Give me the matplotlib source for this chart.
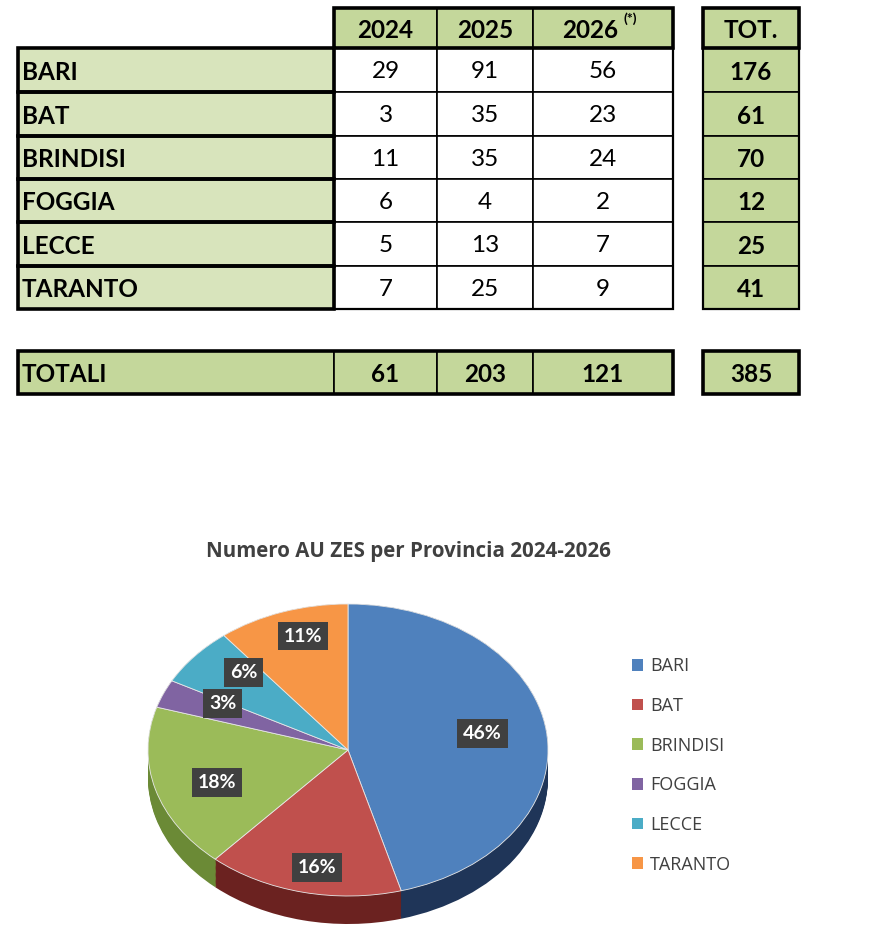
import numpy as np
import matplotlib.pyplot as plt
from matplotlib.patches import Rectangle, Patch

plt.rcParams['font.family'] = ['Lato', 'DejaVu Sans']

provinces = ['BARI', 'BAT', 'BRINDISI', 'FOGGIA', 'LECCE', 'TARANTO']
years = ['2024', '2025', '2026']
v2024 = [29, 3, 11, 6, 5, 7]
v2025 = [91, 35, 35, 4, 13, 25]
v2026 = [56, 23, 24, 2, 7, 9]
totals = [176, 61, 70, 12, 25, 41]
col_totals = [61, 203, 121]
grand_total = 385
chart_title = 'Numero AU ZES per Provincia 2024-2026'

colors = ['#4f81bd', '#c0504d', '#9bbb59', '#8064a2', '#4bacc6', '#f79646']
side_colors = ['#1f3558', '#6b2220', '#6b8a36', '#4f3a6b', '#2a7287', '#a85e24']
light_green = '#d8e4bc'
dark_green = '#c4d79b'

fig = plt.figure(figsize=(8.96, 9.5), dpi=100)
ax = fig.add_axes([0, 0, 1, 1])
ax.set_xlim(0, 896)
ax.set_ylim(950, 0)
ax.axis('off')

# table layout (pixels)
xs = [18, 334, 437, 533, 673]
xt = [703, 799]
head = (8, 48)
rows_y = [48, 92, 136, 179, 222, 266, 309]
tot_y = (351, 394)
fs = 17.5


def cell(x0, x1, y0, y1, fc, lw=1.2):
    ax.add_patch(Rectangle((x0, y0), x1 - x0, y1 - y0, fc=fc, ec='black', lw=lw))


def box(x0, x1, y0, y1, lw=2.6):
    ax.add_patch(Rectangle((x0, y0), x1 - x0, y1 - y0, fc='none', ec='black', lw=lw, zorder=3))


# header
for j, yr in enumerate(years):
    cell(xs[j + 1], xs[j + 2], head[0], head[1], dark_green)
    ym = (head[0] + head[1]) / 2 + 2
    xm = (xs[j + 1] + xs[j + 2]) / 2
    if yr == '2026':
        ax.text(xm - 13, ym, yr, ha='center', va='center', fontsize=fs, fontweight='bold')
        ax.text(xm + 27, ym - 11, '(*)', ha='center', va='center', fontsize=10, fontweight='bold')
    else:
        ax.text(xm, ym, yr, ha='center', va='center', fontsize=fs, fontweight='bold')
box(xs[1], xs[-1], head[0], head[1])
cell(xt[0], xt[1], head[0], head[1], dark_green)
box(xt[0], xt[1], head[0], head[1])
ax.text((xt[0] + xt[1]) / 2, (head[0] + head[1]) / 2 + 2, 'TOT.', ha='center', va='center',
        fontsize=fs, fontweight='bold')

# body
vals = [v2024, v2025, v2026]
for i, p in enumerate(provinces):
    y0, y1 = rows_y[i], rows_y[i + 1]
    ym = (y0 + y1) / 2 + 2
    cell(xs[0], xs[1], y0, y1, light_green)
    box(xs[0], xs[1], y0, y1)
    ax.text(xs[0] + 4, ym, p, ha='left', va='center', fontsize=fs, fontweight='bold')
    for j in range(3):
        cell(xs[j + 1], xs[j + 2], y0, y1, 'white')
        ax.text((xs[j + 1] + xs[j + 2]) / 2, ym, str(vals[j][i]), ha='center', va='center',
                fontsize=fs)
    cell(xt[0], xt[1], y0, y1, dark_green)
    ax.text((xt[0] + xt[1]) / 2, ym, str(totals[i]), ha='center', va='center', fontsize=fs,
            fontweight='bold')
box(xs[1], xs[-1], rows_y[0], rows_y[-1], lw=1.6)
box(xt[0], xt[1], rows_y[0], rows_y[-1], lw=1.6)

# totals row
y0, y1 = tot_y
ym = (y0 + y1) / 2 + 2
cell(xs[0], xs[1], y0, y1, dark_green)
ax.text(xs[0] + 4, ym, 'TOTALI', ha='left', va='center', fontsize=fs, fontweight='bold')
for j in range(3):
    cell(xs[j + 1], xs[j + 2], y0, y1, dark_green)
    ax.text((xs[j + 1] + xs[j + 2]) / 2, ym, str(col_totals[j]), ha='center', va='center',
            fontsize=fs, fontweight='bold')
box(xs[0], xs[-1], y0, y1)
cell(xt[0], xt[1], y0, y1, dark_green)
box(xt[0], xt[1], y0, y1)
ax.text((xt[0] + xt[1]) / 2, ym, str(grand_total), ha='center', va='center', fontsize=fs,
        fontweight='bold')

# chart title
ax.text(408, 552, chart_title, ha='center', va='center', fontsize=14.8, fontweight='bold',
        color='#404040', family=['Open Sans', 'DejaVu Sans'])

# pie (tilted, with side)
W, H = 896, 950
px0, px1 = 148, 548
py0, py1 = 604, 924
depth = 28
ry = (py1 - py0 - depth) / 2
pax = fig.add_axes([px0 / W, 1 - py1 / H, (px1 - px0) / W, (py1 - py0) / H])
d_units = depth / ry
for d in np.linspace(d_units, 0, 25):
    pax.pie(totals, colors=side_colors, startangle=90, counterclock=False, center=(0, -d),
            wedgeprops=dict(linewidth=0))
wedges, _, autotexts = pax.pie(
    totals, colors=colors, startangle=90, counterclock=False,
    autopct=lambda p: f'{p:.0f}%', pctdistance=0.7,
    wedgeprops=dict(linewidth=0.6, edgecolor='#e8e8e8'))
for t in autotexts:
    x, y = t.get_position()
    t.set_position((x * 0.97, y * 1.18))
    t.set_color('white')
    t.set_fontweight('bold')
    t.set_fontsize(14)
    t.set_bbox(dict(boxstyle='square,pad=0.3', fc='#404040', ec='none'))
pax.set_aspect('auto')
pax.set_xlim(-1, 1)
pax.set_ylim(-1 - d_units, 1)
pax.axis('off')

# legend
handles = [Patch(facecolor=c, edgecolor='none') for c in colors]
fig.legend(handles, provinces, loc='upper left', bbox_to_anchor=(616 / W, 1 - 641 / H),
           frameon=False, labelcolor='#404040', handlelength=0.62,
           handleheight=0.62, handletextpad=0.35, labelspacing=1.2,
           prop={'family': ['Open Sans', 'DejaVu Sans'], 'size': 13})

fig.savefig('out.png', dpi=100)
